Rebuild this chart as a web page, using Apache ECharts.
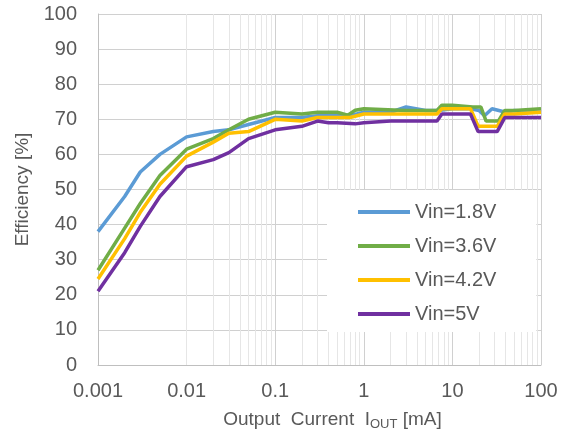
<!DOCTYPE html>
<html>
<head>
<meta charset="utf-8">
<script src="https://cdn.jsdelivr.net/npm/echarts@6/dist/echarts.min.js"></script>
<style>
  html, body { margin: 0; padding: 0; background: #fff; }
  #chart { width: 572px; height: 437px; }
</style>
</head>
<body>
<div id="chart"></div>
<script>
// output current [mA] / efficiency [%] per input voltage
const vin18X = [0.001, 0.002, 0.003, 0.005, 0.01, 0.02, 0.03, 0.05, 0.1, 0.2, 0.3, 0.5, 0.7, 1, 2, 3, 5, 7, 10, 16, 20, 23, 28, 40, 50, 100];
const vin18Y = [38, 48, 55, 60, 65, 66.5, 67, 68.5, 70.5, 70.5, 71, 71, 71, 72, 72, 73.5, 72.5, 72.5, 73, 73, 72.5, 71, 73, 72, 72.5, 72];
const vin36X = [0.001, 0.002, 0.003, 0.005, 0.01, 0.02, 0.03, 0.05, 0.1, 0.2, 0.3, 0.5, 0.66, 0.8, 1, 3, 6.7, 7.6, 10, 17, 21, 24, 33, 39, 50, 100];
const vin36Y = [27, 39, 46, 54, 61.5, 64.5, 67, 70, 72, 71.5, 72, 72, 71.2, 72.6, 73, 72.5, 72.5, 74, 74, 73.5, 73.5, 69.5, 69.5, 72.5, 72.5, 73];
const vin42X = [0.001, 0.002, 0.003, 0.005, 0.01, 0.02, 0.03, 0.05, 0.1, 0.2, 0.3, 0.5, 0.7, 1, 3, 6.7, 7.6, 10, 16, 19.5, 32, 39, 50, 100];
const vin42Y = [24.5, 36, 43.5, 51.5, 59.5, 63.5, 66, 66.5, 70, 69.5, 70.5, 70.5, 70.5, 71.5, 71.5, 71.5, 73, 73, 73, 68, 68, 71.5, 71.5, 72];
const vin5X = [0.001, 0.002, 0.003, 0.005, 0.01, 0.02, 0.03, 0.05, 0.1, 0.2, 0.3, 0.4, 0.5, 0.8, 1, 2, 5, 6.7, 7.6, 10, 16, 19.5, 32, 39, 50, 100];
const vin5Y = [21, 32, 39.5, 48, 56.5, 58.5, 60.5, 64.5, 67, 68, 69.5, 69, 69, 68.7, 69, 69.5, 69.5, 69.5, 71.5, 71.5, 71.5, 66.5, 66.5, 70.5, 70.5, 70.5];
const seriesNames = ['Vin=1.8V', 'Vin=3.6V', 'Vin=4.2V', 'Vin=5V'];
const seriesColors = ['#5B9BD5', '#70AD47', '#FFC000', '#7030A0'];

const pairs = (xs, ys) => xs.map((x, i) => [x, ys[i]]);

// minor log grid lines at 2..9 of each decade
const minorLines = [];
for (let d = -3; d < 2; d++) {
    for (let m = 2; m <= 9; m++) {
        minorLines.push({ xAxis: Number((m * Math.pow(10, d)).toPrecision(3)) });
    }
}

const chart = echarts.init(document.getElementById('chart'));
const labelColor = '#595959';
const lineSeries = [vin18X, vin36X, vin42X, vin5X].map((xs, i) => ({
    name: seriesNames[i],
    type: 'line',
    data: pairs(xs, [vin18Y, vin36Y, vin42Y, vin5Y][i]),
    symbol: 'none',
    z: 3 + i,
    lineStyle: { width: 3.5, color: seriesColors[i] },
    itemStyle: { color: seriesColors[i] },
}));

chart.setOption({
    animation: false,
    backgroundColor: '#fff',
    textStyle: { fontFamily: 'Liberation Sans, Arial, sans-serif' },
    grid: { left: 98, right: 31, top: 14, bottom: 72 },
    legend: {
        data: seriesNames,
        orient: 'vertical',
        left: 327,
        top: 190,
        backgroundColor: '#fff',
        padding: [12, 40, 8, 31],
        icon: 'rect',
        itemWidth: 52,
        itemHeight: 4,
        itemGap: 14,
        textStyle: { fontSize: 20, color: labelColor },
    },
    xAxis: {
        type: 'log',
        logBase: 10,
        min: 0.001,
        max: 100,
        name: '{a|Output  Current  I}{s|OUT}{a| [mA]}',
        nameLocation: 'middle',
        nameGap: 44,
        nameTextStyle: {
            padding: [0, 0, 0, 26],
            rich: {
                a: { fontSize: 19, color: labelColor },
                s: { fontSize: 13, color: labelColor, verticalAlign: 'bottom', padding: [9, 0, 0, 0] },
            },
        },
        axisLine: { show: true, lineStyle: { color: '#BFBFBF', width: 1 } },
        axisTick: { show: false },
        axisLabel: {
            fontSize: 20,
            color: labelColor,
            margin: 16,
            formatter: (v) => String(Number(v.toPrecision(6))),
        },
        splitLine: { show: true, lineStyle: { color: '#D0D0D0', width: 1 } },
    },
    yAxis: {
        type: 'value',
        min: 0,
        max: 100,
        interval: 10,
        name: 'Efficiency [%]',
        nameLocation: 'middle',
        nameGap: 66,
        nameTextStyle: { fontSize: 19, color: labelColor },
        axisLine: { show: true, lineStyle: { color: '#BFBFBF', width: 1 } },
        axisTick: { show: false },
        axisLabel: { fontSize: 20, color: labelColor, margin: 21 },
        splitLine: { lineStyle: { color: '#D0D0D0', width: 1 } },
    },
    series: [
        {
            name: 'grid',
            type: 'line',
            data: [],
            z: 1,
            silent: true,
            markLine: {
                silent: true,
                z: 1,
                symbol: 'none',
                label: { show: false },
                animation: false,
                lineStyle: { color: '#E6E6E6', width: 1, type: 'solid' },
                data: minorLines,
            },
        },
        ...lineSeries,
    ],
});
</script>
</body>
</html>
